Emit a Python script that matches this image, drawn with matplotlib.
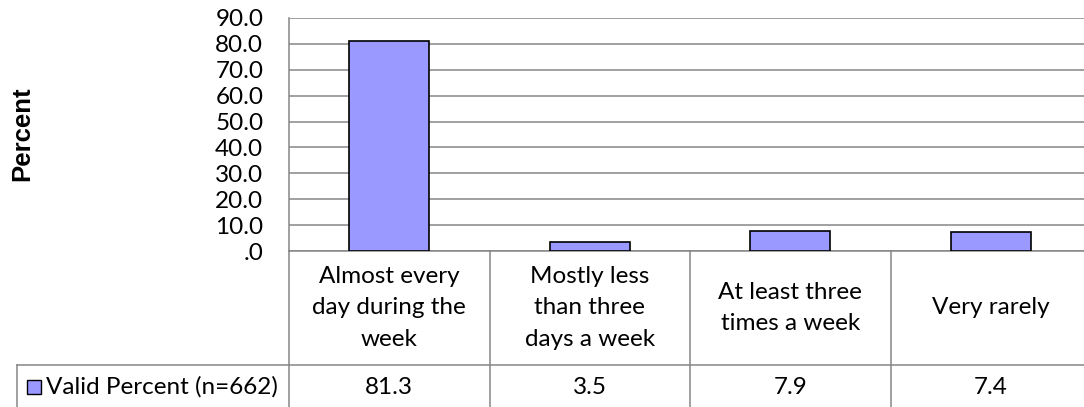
import matplotlib
matplotlib.use("Agg")
from matplotlib import pyplot as plt
from matplotlib import transforms
from matplotlib.patches import Rectangle
import numpy as np

categories = [
    "Almost every\nday during the\nweek",
    "Mostly less\nthan three\ndays a week",
    "At least three\ntimes a week",
    "Very rarely",
]
valid_percent = [81.3, 3.5, 7.9, 7.4]
series_label = "Valid Percent (n=662)"
y_ticks = [0, 10, 20, 30, 40, 50, 60, 70, 80, 90]

BAR_COLOR = "#9999FF"
GRID_COLOR = "#868686"
BODY_FONT = ["Lato", "DejaVu Sans"]

W, H = 1084, 407
fig = plt.figure(figsize=(W / 100, H / 100), dpi=100)

# plot area in pixels: x 289..1091 (runs past the right edge), y 18..251
left, right, top, bottom = 289, 1091, 18, 251
ax = fig.add_axes([left / W, (H - bottom) / H, (right - left) / W, (bottom - top) / H])

x = np.arange(len(categories))
ax.bar(x, valid_percent, width=0.4, color=BAR_COLOR, edgecolor="black",
       linewidth=1.2, zorder=3)

ax.set_xlim(-0.5, len(categories) - 0.5)
ax.set_ylim(0, 90)
ax.set_yticks(y_ticks)
ax.set_yticklabels([f"{t:.1f}".lstrip("0") if t == 0 else f"{t:.1f}" for t in y_ticks],
                   fontfamily=BODY_FONT, fontsize=17.5)
ax.tick_params(axis="y", length=0, pad=18.5)
ax.set_xticks([])
ax.grid(axis="y", color=GRID_COLOR, linewidth=1.1, zorder=0)
for side in ("top", "right"):
    ax.spines[side].set_visible(False)
ax.spines["left"].set_color(GRID_COLOR)
ax.spines["left"].set_linewidth(1.1)
ax.spines["bottom"].set_color(GRID_COLOR)
ax.spines["bottom"].set_linewidth(1.1)

# "Percent" title drawn by hand so its centre sits at x = 22 px
fig.text(22 / W, (H - 134) / H, "Percent", rotation=90, ha="center", va="center",
         fontfamily=["Liberation Sans", "DejaVu Sans"], fontweight="bold", fontsize=18.5)

# data table underneath: x in data units, y in axes fraction
trans = transforms.blended_transform_factory(ax.transData, ax.transAxes)
span = bottom - top


def ay(py):
    return (bottom - py) / span


row1_bottom = 365
row2_bottom = 409
legend_left = -0.5 - (left - 17) / ((right - left) / len(categories))

line_kw = dict(color=GRID_COLOR, linewidth=1.1, transform=trans, clip_on=False)
for b in np.arange(-0.5, len(categories), 1.0):
    ax.plot([b, b], [ay(bottom), ay(H + 5)], **line_kw)
ax.plot([legend_left, len(categories) - 0.5], [ay(row1_bottom)] * 2, **line_kw)
ax.plot([legend_left, legend_left], [ay(row1_bottom), ay(H + 5)], **line_kw)

for xi, label, val in zip(x, categories, valid_percent):
    ax.text(xi, ay((bottom + row1_bottom) / 2), label, transform=trans,
            ha="center", va="center", fontfamily=BODY_FONT, fontsize=17.5,
            linespacing=1.62, clip_on=False)
    ax.text(xi, ay((row1_bottom + row2_bottom) / 2), f"{val:.1f}", transform=trans,
            ha="center", va="center", fontfamily=BODY_FONT, fontsize=17.5,
            clip_on=False)

# legend key inside the first cell
row2_mid = (row1_bottom + row2_bottom) / 2
key = Rectangle((27 / W, (H - row2_mid - 7) / H), 14 / W, 14 / H,
                transform=fig.transFigure, facecolor=BAR_COLOR,
                edgecolor="black", linewidth=1.0)
fig.patches.append(key)
fig.text(46 / W, (H - row2_mid) / H, series_label, ha="left", va="center",
         fontfamily=BODY_FONT, fontsize=17.5)

fig.savefig("out.png", dpi=100)
